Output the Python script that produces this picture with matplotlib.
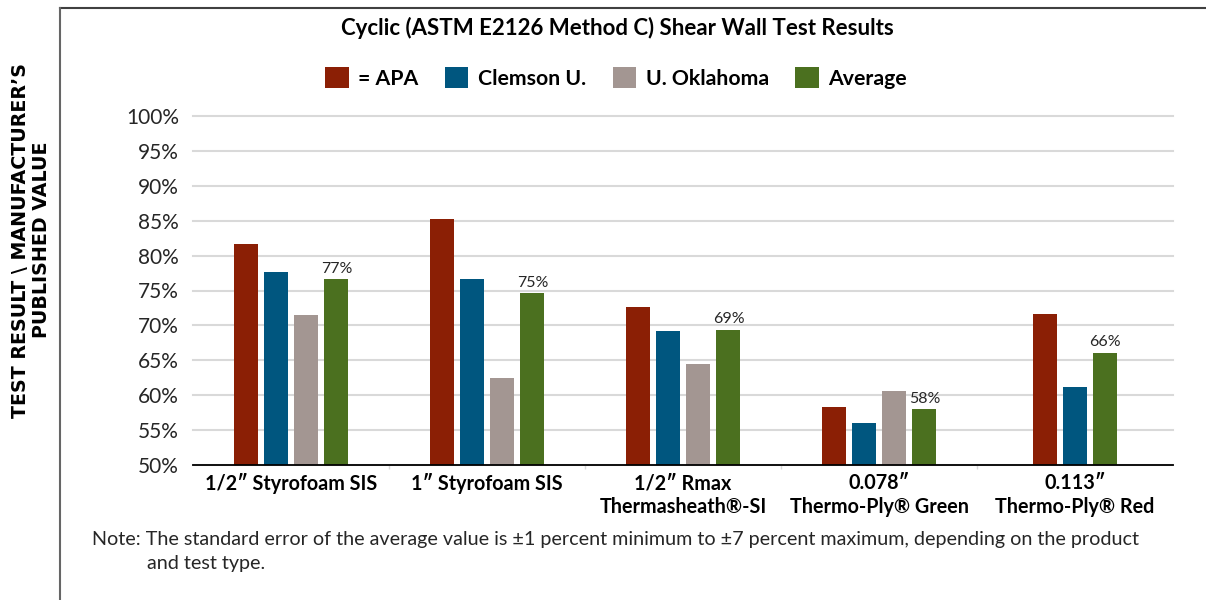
import numpy as np
import matplotlib
matplotlib.use("Agg")
import matplotlib.pyplot as plt
from matplotlib.patches import Patch
from matplotlib.lines import Line2D

plt.rcParams['font.family'] = ['Lato', 'DejaVu Sans']

categories = ["1/2\u2033 Styrofoam SIS", "1\u2033 Styrofoam SIS",
              "1/2\u2033 Rmax\nThermasheath\u00ae-SI", "0.078\u2033\nThermo-Ply\u00ae Green",
              "0.113\u2033\nThermo-Ply\u00ae Red"]
series_names = ["= APA", "Clemson U.", "U. Oklahoma", "Average"]
apa = [81.6, 85.3, 72.7, 58.3, 71.6]
clemson = [77.6, 76.7, 69.2, 56.0, 61.2]
oklahoma = [71.5, 62.4, 64.4, 60.6, np.nan]
average = [76.6, 74.6, 69.4, 58.0, 66.1]
yticks = [50, 55, 60, 65, 70, 75, 80, 85, 90, 95, 100]
colors = ["#8B1F05", "#00567F", "#A39692", "#4B701F"]

series = [apa, clemson, oklahoma, average]

fig = plt.figure(figsize=(12.06, 6.0), dpi=100)
ax = fig.add_axes([193/1206, 135/600, 980/1206, 349/600])

step = 0.1546
width = 0.1224
for ci in range(len(categories)):
    present = [si for si in range(len(series)) if not np.isnan(series[si][ci])]
    n = len(present)
    for k, si in enumerate(present):
        x = ci + (k - (n - 1) / 2) * step
        v = series[si][ci]
        ax.bar(x, v - 50, width=width, bottom=50, color=colors[si], zorder=3)
        if si == 3:
            ax.text(x, v + 0.45, f"{v:.0f}%", ha='center', va='bottom',
                    fontsize=11.5, color='#262626', zorder=4)

ax.set_xlim(-0.5, len(categories) - 0.5)
ax.set_ylim(50, 100)
ax.set_yticks(yticks)
ax.set_yticklabels([f"{t}%" for t in yticks], fontsize=15, color='#262626')
ax.yaxis.grid(True, color='#d9d9d9', linewidth=1.5, zorder=0)
ax.set_axisbelow(True)
for t in ax.yaxis.get_gridlines():
    t.set_clip_on(False)
ax.tick_params(axis='y', length=0, pad=10)
ax.set_xticks(range(len(categories)))
ax.set_xticklabels(categories, fontsize=14.2, fontweight='bold', color='black',
                   linespacing=1.2)
ax.tick_params(axis='x', length=0, pad=6)
ax.set_xticks(np.arange(0.5, len(categories) - 1, 1.0), minor=True)
ax.tick_params(axis='x', which='minor', length=3, color='#d9d9d9', width=1)
for s in ['top', 'right', 'left']:
    ax.spines[s].set_visible(False)
ax.spines['bottom'].set_color('black')
ax.spines['bottom'].set_linewidth(1.3)
ax.spines['bottom'].set_zorder(5)

fig.text(617/1206, 1 - 28/600, "Cyclic (ASTM E2126 Method C) Shear Wall Test Results",
         ha='center', va='center', fontsize=16, fontweight='bold', color='black')

handles = [Patch(facecolor=c, edgecolor='none') for c in colors]
fig.legend(handles, series_names, loc='center', bbox_to_anchor=(616/1206, 1 - 78/600),
           ncol=4, frameon=False, prop={'weight': 'bold', 'size': 15.3},
           handlelength=1.1, handleheight=1.1, handletextpad=0.45, columnspacing=1.25)

fig.text(31/1206, 1 - 240/600, "TEST RESULT \\ MANUFACTURER\u2019S\nPUBLISHED VALUE",
         rotation=90, ha='center', va='center', fontsize=13.7, fontweight='bold',
         family=['DejaVu Sans'], linespacing=1.1, color='black')

fig.text(92/1206, 1 - 540/600,
         "Note: The standard error of the average value is \u00b11 percent minimum to \u00b17 percent maximum, depending on the product",
         ha='left', va='center', fontsize=14.2, color='#262626')
fig.text(147/1206, 1 - 564/600, "and test type.", ha='left', va='center',
         fontsize=14.2, color='#262626')

fig.add_artist(Line2D([60/1206, 1], [1 - 8/600, 1 - 8/600], color='#404040', linewidth=1.5))
fig.add_artist(Line2D([60/1206, 60/1206], [0, 1 - 8/600], color='#666666', linewidth=1.5))

fig.savefig("out.png", dpi=100)
